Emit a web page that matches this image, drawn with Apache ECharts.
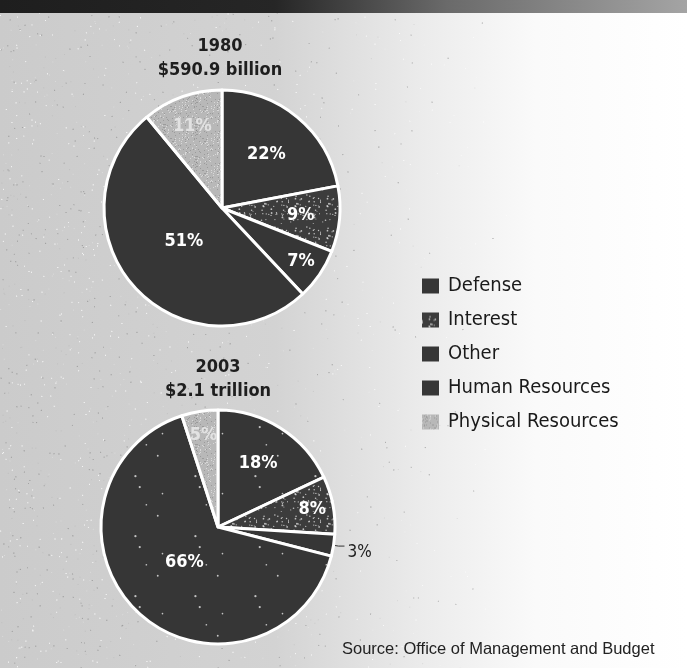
<!DOCTYPE html>
<html><head><meta charset="utf-8">
<script src="https://cdn.jsdelivr.net/npm/echarts@6/dist/echarts.min.js"></script>
<style>html,body{margin:0;padding:0;background:#fff}#c{width:687px;height:668px}</style>
</head><body><div id="c"></div><script>
// ---- data ----
const categories = ['Defense', 'Interest', 'Other', 'Human Resources', 'Physical Resources'];
const values1980 = [22, 9, 7, 51, 11];
const values2003 = [18, 8, 3, 66, 5];
const title1980 = '1980\n$590.9 billion';
const title2003 = '2003\n$2.1 trillion';
const sourceText = 'Source: Office of Management and Budget';

// ---- styling ----
const FONT = '"Liberation Sans Narrow", "DejaVu Sans Condensed", "Liberation Sans", sans-serif';
const W = 687, H = 668;
const pie1 = {cx: 222, cy: 208, r: 118};
const pie2 = {cx: 218, cy: 527, r: 117};
const labelR1980 = [0.59, 0.67, 0.81, 0.43, 0.74];
const labelR2003 = [0.64, 0.82, null, 0.42, 0.79];

// deterministic texture generator (for scanned look only)
let seed = 12345;
function rnd() { seed = (seed * 1103515245 + 12345) & 0x7fffffff; return seed / 0x7fffffff; }

function makePattern(size, base, dotColor, n, dotR) {
  const c = document.createElement('canvas'); c.width = size; c.height = size;
  const g = c.getContext('2d');
  g.fillStyle = base; g.fillRect(0, 0, size, size);
  g.fillStyle = dotColor;
  for (let i = 0; i < n; i++) {
    g.beginPath(); g.arc(rnd() * size, rnd() * size, dotR * (0.6 + rnd() * 0.6), 0, Math.PI * 2); g.fill();
  }
  return c;
}
const dark = '#363636';
const interestPat = makePattern(32, '#3c3c3c', 'rgba(225,225,225,0.8)', 48, 0.8);
const physPat = (function () {
  const c = document.createElement('canvas'); c.width = 32; c.height = 32;
  const g = c.getContext('2d');
  g.fillStyle = '#b8b8b8'; g.fillRect(0, 0, 32, 32);
  for (let i = 0; i < 140; i++) {
    g.fillStyle = rnd() > 0.5 ? 'rgba(255,255,255,0.45)' : 'rgba(100,100,100,0.35)';
    g.fillRect(Math.floor(rnd() * 32), Math.floor(rnd() * 32), 1, 1);
  }
  return c;
})();
const starPat = makePattern(60, dark, 'rgba(230,230,230,0.8)', 5, 1.1);

// background canvas: gradient + fine speckle + header band
const bg = document.createElement('canvas'); bg.width = W; bg.height = H;
(function () {
  const g = bg.getContext('2d');
  const grd = g.createLinearGradient(0, 0, W, 0);
  grd.addColorStop(0, '#cbcbcb'); grd.addColorStop(0.4, '#d3d3d3');
  grd.addColorStop(0.62, '#ececec'); grd.addColorStop(0.78, '#fafafa'); grd.addColorStop(1, '#ffffff');
  g.fillStyle = grd; g.fillRect(0, 0, W, H);
  for (let i = 0; i < 16000; i++) {
    const x = rnd() * W, y = rnd() * H;
    const fade = Math.max(0, 1 - x / (W * 0.75));
    if (rnd() > fade) continue;
    g.fillStyle = rnd() > 0.5 ? 'rgba(255,255,255,0.3)' : 'rgba(140,140,140,0.18)';
    g.fillRect(x, y, 1, 1);
  }
  const hg = g.createLinearGradient(0, 0, W, 0);
  hg.addColorStop(0, '#1e1e1e'); hg.addColorStop(0.4, '#262626');
  hg.addColorStop(0.65, '#6a6a6a'); hg.addColorStop(1, '#a4a4a4');
  g.fillStyle = hg; g.fillRect(0, 0, W, 13);
})();

function labelLayoutFor(vals, fr, p) {
  const total = vals.reduce((a, b) => a + b, 0);
  return function (params) {
    const i = params.dataIndex;
    if (fr[i] == null) return {dy: 6};
    let cum = 0; for (let k = 0; k < i; k++) cum += vals[k];
    const ang = (cum + vals[i] / 2) / total * Math.PI * 2;
    return {x: p.cx + fr[i] * p.r * Math.sin(ang), y: p.cy - fr[i] * p.r * Math.cos(ang), align: 'center', verticalAlign: 'middle'};
  };
}

const colors1980 = [dark, {image: interestPat, repeat: 'repeat'}, dark, dark, {image: physPat, repeat: 'repeat'}];
const colors2003 = [{image: starPat, repeat: 'repeat'}, {image: interestPat, repeat: 'repeat'}, dark, {image: starPat, repeat: 'repeat'}, {image: physPat, repeat: 'repeat'}];

function buildData(vals, cols, outsideIdx) {
  return vals.map((v, i) => {
    const d = {name: categories[i], value: v, itemStyle: {color: cols[i]}};
    if (i === 4) d.label = {color: '#e2e2e2'};
    if (i === outsideIdx) {
      d.label = {position: 'outside', color: '#222', fontWeight: 'normal', fontSize: 17, distanceToLabelLine: 3};
      d.labelLine = {show: true, length: 5, length2: 6, lineStyle: {color: '#333', width: 1}};
    }
    return d;
  });
}

function pieSeries(p, vals, cols, fr, outsideIdx) {
  return {
    type: 'pie', center: [p.cx, p.cy], radius: [0, p.r], startAngle: 90, clockwise: true,
    animation: false, silent: true,
    itemStyle: {borderColor: '#ffffff', borderWidth: 3},
    label: {show: true, position: 'inside', formatter: '{c}%', color: '#ffffff', fontFamily: FONT, fontWeight: 'bold', fontSize: 18},
    labelLine: {show: false},
    labelLayout: labelLayoutFor(vals, fr, p),
    data: buildData(vals, cols, outsideIdx)
  };
}

const chart = echarts.init(document.getElementById('c'), null, {renderer: 'canvas'});
chart.setOption({
  backgroundColor: {image: bg, repeat: 'no-repeat'},
  title: [
    {text: title1980, left: pie1.cx - 2, top: 34, textAlign: 'center', padding: 0,
      textStyle: {fontFamily: FONT, fontSize: 18, fontWeight: 'bold', color: '#1e1e1e', lineHeight: 24}},
    {text: title2003, left: pie2.cx, top: 355, textAlign: 'center', padding: 0,
      textStyle: {fontFamily: FONT, fontSize: 18, fontWeight: 'bold', color: '#1e1e1e', lineHeight: 24}}
  ],
  legend: {
    orient: 'vertical', left: 417, top: 271, icon: 'rect', itemWidth: 17, itemHeight: 15, itemGap: 14,
    data: categories, selectedMode: false,
    itemStyle: {borderWidth: 0},
    textStyle: {fontFamily: FONT, fontSize: 20, color: '#1a1a1a', padding: [0, 0, 0, 4]}
  },
  graphic: [
    {type: 'text', left: 342, top: 641, style: {text: sourceText, font: '16.5px "Liberation Sans", sans-serif', fill: '#222'}}
  ],
  series: [
    pieSeries(pie1, values1980, colors1980, labelR1980, -1),
    pieSeries(pie2, values2003, colors2003, labelR2003, 2)
  ]
});
</script></body></html>
